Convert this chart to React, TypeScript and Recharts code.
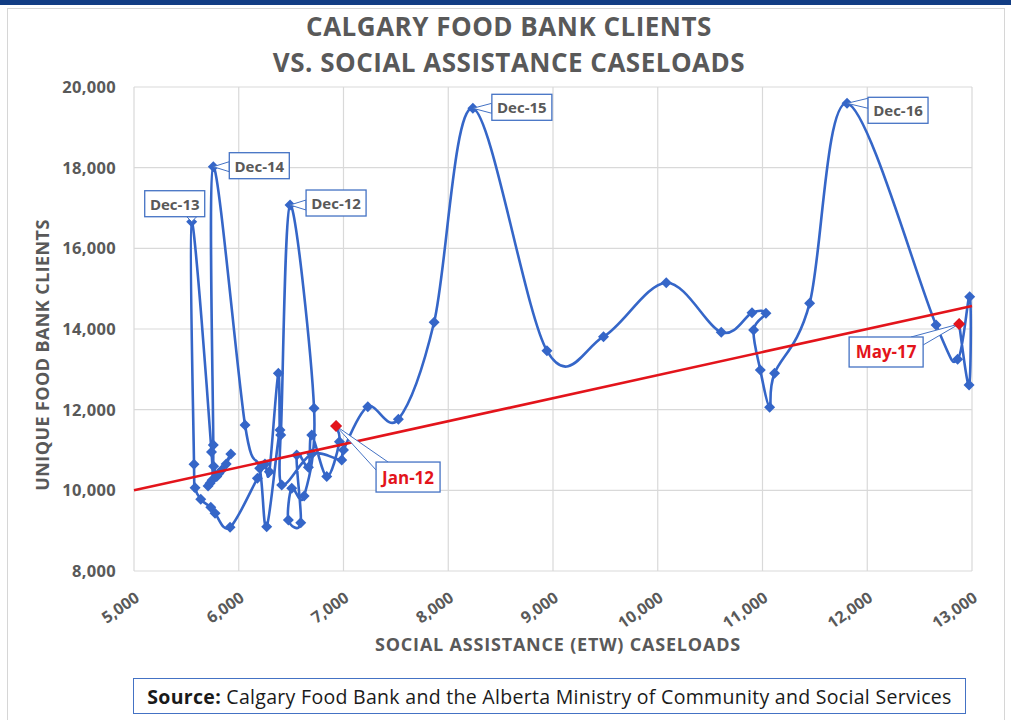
import { ScatterChart, Scatter, XAxis, YAxis, CartesianGrid } from 'recharts'

// Calgary Food Bank unique clients vs ETW caseloads, Jan-12 .. May-17 (monthly, time order)
const monthNames = ['Jan', 'Feb', 'Mar', 'Apr', 'May', 'Jun', 'Jul', 'Aug', 'Sep', 'Oct', 'Nov', 'Dec']
const years = ['12', '13', '14', '15', '16', '17']
const months = years.flatMap((y) => monthNames.map((m) => `${m}-${y}`)).slice(0, 65)

const caseloads = [
  6929, 6961, 6840, 6697, 6665, 6553, 6592, 6474, 6506, 6624, 6719, 6490,
  6401, 6378, 6292, 6250, 6178, 5917, 5774, 5733, 5637, 5583, 5573, 5551,
  5740, 5726, 5707, 5745, 5790, 5838, 5924, 5880, 5810, 5760, 5757, 5757,
  6060, 6200, 6267, 6394, 6410, 6697, 6983, 7000, 7232, 7524, 7865, 8235,
  8942, 9482, 10081, 10606, 10900, 11033, 10915, 10979, 11068, 11115, 11450, 11807,
  12657, 12863, 12978, 12972, 12877,
]

const clients = [
  11594, 11205, 10340, 11371, 10571, 10875, 9199, 9264, 10050, 9859, 12033, 17074,
  11371, 12901, 10461, 10650, 10298, 9083, 9430, 9579, 9777, 10065, 10645, 16660,
  10950, 10174, 10107, 10250, 10340, 10504, 10900, 10650, 10420, 10600, 11124, 18024,
  11619, 10550, 9100, 11495, 10132, 10900, 10752, 11000, 12073, 11760, 14166, 19472,
  13462, 13809, 15148, 13918, 14404, 14389, 13975, 12983, 12058, 12901, 14637, 19596,
  14099, 13248, 14800, 12611, 14124,
]

const xTicks = [5000, 6000, 7000, 8000, 9000, 10000, 11000, 12000, 13000]
const yTicks = [8000, 10000, 12000, 14000, 16000, 18000, 20000]

// linear trend line end points
const trendCaseloads = [5000, 13000]
const trendClients = [10000, 14570]

const calloutMonths = ['Jan-12', 'Dec-12', 'Dec-13', 'Dec-14', 'Dec-15', 'Dec-16', 'May-17']
const redMonths = ['Jan-12', 'May-17']

const series = months.map((m, i) => ({ month: m, x: caseloads[i], y: clients[i] }))
const callouts = series.filter((d) => calloutMonths.includes(d.month))
const trend = trendCaseloads.map((x, i) => ({ x, y: trendClients[i] }))

const BLUE = '#3566c8'
const RED = '#e3141b'
const GREY = '#595959'
const BORDER = '#4472c4'

// box offsets from the point, in px
const calloutBox: Record<string, { dx: number; dy: number; w: number; h: number }> = {
  'Jan-12': { dx: 40, dy: 36, w: 64, h: 30 },
  'Dec-12': { dx: 16, dy: -15, w: 60, h: 26 },
  'Dec-13': { dx: -47, dy: -31, w: 60, h: 26 },
  'Dec-14': { dx: 16, dy: -14, w: 60, h: 26 },
  'Dec-15': { dx: 19, dy: -14, w: 60, h: 26 },
  'Dec-16': { dx: 21, dy: -6, w: 60, h: 26 },
  'May-17': { dx: -110, dy: 13, w: 74, h: 30 },
}

function diamond(cx: number, cy: number, r: number) {
  return `${cx},${cy - r} ${cx + r},${cy} ${cx},${cy + r} ${cx - r},${cy}`
}

function Marker(props: any) {
  const { cx, cy } = props
  if (cx == null || cy == null) return <g />
  return <polygon points={diamond(cx, cy, 5.5)} fill={BLUE} />
}

// Excel-like smoothed scatter line (Catmull-Rom as cubic beziers)
function SmoothLine(props: any) {
  const pts = props.points || []
  if (!pts.length) return <g />
  let d = `M${pts[0].x},${pts[0].y}`
  for (let i = 0; i < pts.length - 1; i++) {
    const p0 = pts[i - 1] || pts[i]
    const p1 = pts[i]
    const p2 = pts[i + 1]
    const p3 = pts[i + 2] || p2
    const c1x = p1.x + (p2.x - p0.x) / 6
    const c1y = p1.y + (p2.y - p0.y) / 6
    const c2x = p2.x - (p3.x - p1.x) / 6
    const c2y = p2.y - (p3.y - p1.y) / 6
    d += ` C${c1x},${c1y} ${c2x},${c2y} ${p2.x},${p2.y}`
  }
  return <path d={d} fill="none" stroke={BLUE} strokeWidth={2.6} strokeLinejoin="round" />
}

function Callout(props: any) {
  const { cx, cy, payload } = props
  const b = calloutBox[payload.month]
  if (!b || cx == null) return <g />
  const red = redMonths.includes(payload.month)
  const bx = cx + b.dx
  const by = cy + b.dy
  const nx = Math.min(Math.max(cx, bx), bx + b.w)
  const ny = Math.min(Math.max(cy, by), by + b.h)
  const onV = nx === bx || nx === bx + b.w
  const onH = ny === by || ny === by + b.h
  let p1: number[]
  let p2: number[]
  if (onV && onH) {
    const sx = nx === bx ? 1 : -1
    const sy = ny === by ? 1 : -1
    p1 = [nx + 12 * sx, ny]
    p2 = [nx, ny + 8 * sy]
  } else if (onV) {
    p1 = [nx, ny - 5]
    p2 = [nx, ny + 5]
  } else {
    p1 = [nx - 5, ny]
    p2 = [nx + 5, ny]
  }
  return (
    <g>
      <polygon
        points={`${p1[0]},${p1[1]} ${cx},${cy} ${p2[0]},${p2[1]}`}
        fill="#fff"
        stroke={BORDER}
        strokeWidth={1}
      />
      <rect x={bx} y={by} width={b.w} height={b.h} fill="#fff" stroke={BORDER} strokeWidth={1.3} />
      <text
        x={bx + b.w / 2}
        y={by + b.h / 2}
        textAnchor="middle"
        dominantBaseline="central"
        fill={red ? RED : GREY}
        fontSize={red ? 17 : 15}
        fontWeight={700}
      >
        {payload.month}
      </text>
      {red && <polygon points={diamond(cx, cy, 6)} fill={RED} />}
    </g>
  )
}

const fmt = (v: number) => v.toLocaleString('en-US')

export default function App() {
  return (
    <div
      style={{
        position: 'absolute',
        left: 0,
        top: 0,
        width: 1011,
        height: 720,
        background: '#fff',
        fontFamily: "'Open Sans', sans-serif",
        overflow: 'hidden',
      }}
    >
      <div style={{ position: 'absolute', left: 0, top: 0, width: 1011, height: 5, background: '#123d84' }} />
      <div
        style={{
          position: 'absolute',
          left: 7,
          top: 8,
          width: 996,
          height: 720,
          border: '1px solid #d6d6d6',
        }}
      />
      <div
        style={{
          position: 'absolute',
          left: 0,
          top: 8,
          width: 1018,
          textAlign: 'center',
          color: GREY,
          fontWeight: 700,
          fontSize: 26,
          letterSpacing: 0.5,
          lineHeight: '36px',
        }}
      >
        <div>CALGARY FOOD BANK CLIENTS</div>
        <div>VS. SOCIAL ASSISTANCE CASELOADS</div>
      </div>

      <ScatterChart width={1011} height={720} margin={{ top: 87, right: 39, bottom: 109, left: 54 }}>
        <CartesianGrid stroke="#d9d9d9" strokeWidth={1.2} />
        <XAxis
          type="number"
          dataKey="x"
          domain={[5000, 13000]}
          ticks={xTicks}
          tickFormatter={fmt}
          height={40}
          axisLine={false}
          tickLine={false}
          tickSize={0}
          tickMargin={20}
          angle={-35}
          textAnchor="end"
          interval={0}
          tick={{ fill: GREY, fontSize: 16, fontWeight: 700 }}
        />
        <YAxis
          type="number"
          dataKey="y"
          domain={[8000, 20000]}
          ticks={yTicks}
          tickFormatter={fmt}
          width={80}
          axisLine={false}
          tickLine={false}
          tickSize={0}
          tickMargin={18}
          interval={0}
          tick={{ fill: GREY, fontSize: 16.5, fontWeight: 700, letterSpacing: 0.3 }}
        />
        <Scatter
          data={series}
          fill={BLUE}
          line={SmoothLine}
          lineType="joint"
          shape={Marker}
          isAnimationActive={false}
        />
        <Scatter
          data={trend}
          fill={RED}
          line={{ stroke: RED, strokeWidth: 2.6 }}
          lineType="joint"
          shape={() => <g />}
          isAnimationActive={false}
        />
        <Scatter data={callouts} fill={BLUE} shape={Callout} isAnimationActive={false} />
      </ScatterChart>

      <div
        style={{
          position: 'absolute',
          left: 42,
          top: 355,
          transform: 'translate(-50%, -50%) rotate(-90deg)',
          whiteSpace: 'nowrap',
          color: GREY,
          fontWeight: 700,
          fontSize: 18,
          letterSpacing: 0.4,
        }}
      >
        UNIQUE FOOD BANK CLIENTS
      </div>
      <div
        style={{
          position: 'absolute',
          left: 558,
          top: 644,
          transform: 'translate(-50%, -50%)',
          whiteSpace: 'nowrap',
          color: GREY,
          fontWeight: 700,
          fontSize: 18,
          letterSpacing: 0.8,
        }}
      >
        SOCIAL ASSISTANCE (ETW) CASELOADS
      </div>
      <div
        style={{
          position: 'absolute',
          left: 133,
          top: 678,
          width: 831,
          height: 34,
          border: `1.5px solid ${BORDER}`,
          display: 'flex',
          alignItems: 'center',
          justifyContent: 'center',
          fontSize: 19.5,
          letterSpacing: 0.3,
          color: '#1a1a1a',
          whiteSpace: 'nowrap',
        }}
      >
        <span>
          <b>Source:</b> Calgary Food Bank and the Alberta Ministry of Community and Social Services
        </span>
      </div>
    </div>
  )
}
